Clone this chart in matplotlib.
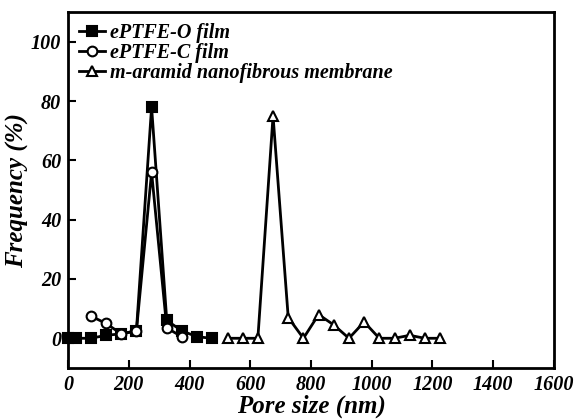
import matplotlib
matplotlib.use("Agg")
import matplotlib.pyplot as plt

# Data
o_x = [0, 25, 75, 125, 175, 225, 275, 325, 375, 425, 475]
o_y = [0, 0, 0, 1, 1.5, 2.5, 78, 6, 2.5, 0.5, 0]
c_x = [75, 125, 175, 225, 275, 325, 375]
c_y = [7.5, 5, 1.5, 2.5, 56, 3.5, 0.5]
m_x = [525, 575, 625, 675, 725, 775, 825, 875, 925, 975, 1025, 1075, 1125, 1175, 1225]
m_y = [0, 0, 0, 75, 7, 0, 8, 4.5, 0, 5.5, 0, 0, 1, 0, 0]
labels = ["ePTFE-O film", "ePTFE-C film", "m-aramid nanofibrous membrane"]
xticks = [0, 200, 400, 600, 800, 1000, 1200, 1400, 1600]
yticks = [0, 20, 40, 60, 80, 100]

plt.rcParams['font.family'] = ['Liberation Serif', 'DejaVu Serif']
fig = plt.figure(figsize=(5.77, 4.2), dpi=100)
ax = fig.add_axes([0.118, 0.124, 0.842, 0.847])

kw = dict(color='black', lw=2, ms=7, mew=1.5, clip_on=False)
ax.plot(o_x, o_y, marker='s', mfc='black', label=labels[0], zorder=3, **kw)
ax.plot(c_x, c_y, marker='o', mfc='white', label=labels[1], zorder=4, **kw)
ax.plot(m_x, m_y, marker='^', mfc='white', label=labels[2], zorder=5, **kw)

ax.set_xlim(0, 1600)
ax.set_ylim(-10, 110)
ax.set_xticks(xticks)
ax.set_yticks(yticks)
ax.tick_params(direction='in', length=6, width=1.5, labelsize=14.5, pad=5)
for lab in ax.get_xticklabels() + ax.get_yticklabels():
    lab.set_fontweight('bold')
    lab.set_fontstyle('italic')
for s in ax.spines.values():
    s.set_linewidth(2)

ax.set_xlabel('Pore size (nm)', fontsize=18, fontweight='bold', fontstyle='italic', labelpad=0)
ax.set_ylabel('Frequency (%)', fontsize=18, fontweight='bold', fontstyle='italic', labelpad=1)

leg = ax.legend(loc='upper left', frameon=False, handlelength=1.3, handletextpad=0.25,
                labelspacing=0.0, borderaxespad=0.2, borderpad=0.35,
                prop={'size': 14.5, 'weight': 'bold', 'style': 'italic'})

fig.savefig('out.png', dpi=100)
